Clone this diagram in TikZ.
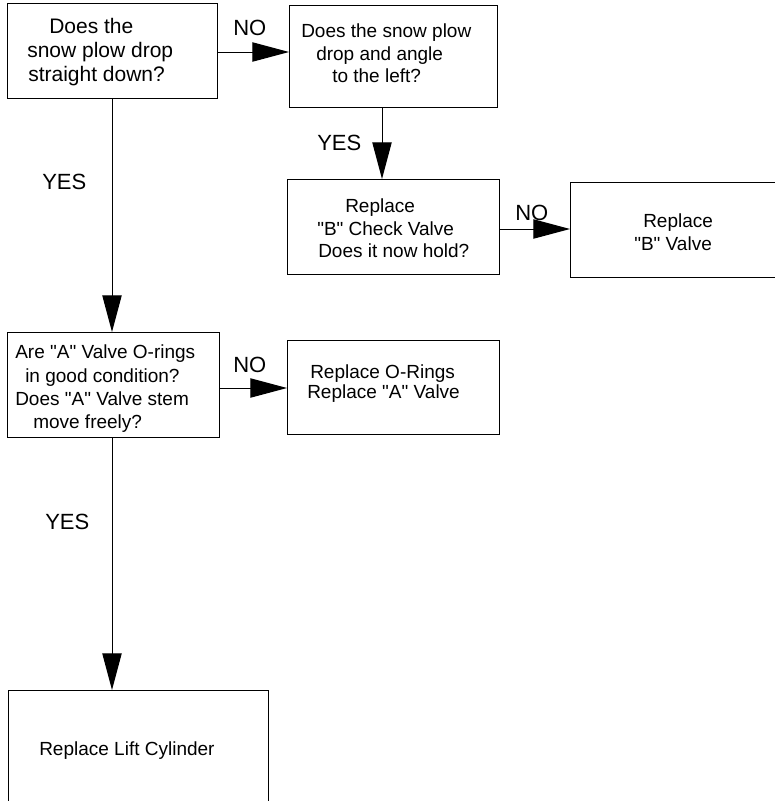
\documentclass[tikz,border=0pt]{standalone}
\usepackage{fontspec}
\setmainfont{Liberation Sans}[Ligatures=TeXOff]
\usetikzlibrary{arrows.meta}
\begin{document}
\begin{tikzpicture}[x=0.75pt,y=-0.75pt,
  box/.style={draw, line width=0.9pt, inner sep=0pt, anchor=north west},
  txt/.style={inner sep=0pt, anchor=base west, font=\fontsize{14.25}{17}\selectfont},
  bigtxt/.style={inner sep=0pt, anchor=base west, font=\fontsize{15.75}{18}\selectfont},
  lbl/.style={inner sep=0pt, anchor=base west, font=\fontsize{16.5}{19}\selectfont},
  arr/.style={line width=0.75pt, -{Triangle[length=27.5pt, width=14.5pt]}}]
\useasboundingbox (0,0) rectangle (775,801);
\clip (0,0) rectangle (775,801);
% boxes
\node[box, minimum width=157.5pt, minimum height=71.25pt] (b1) at (7,3) {};
\node[box, minimum width=156pt, minimum height=76.5pt] (b2) at (289,5) {};
\node[box, minimum width=159pt, minimum height=71.25pt] (b3) at (287,179) {};
\node[box, minimum width=165pt, minimum height=71.25pt] (b4) at (570,182) {};
\node[box, minimum width=159pt, minimum height=78.75pt] (b5) at (7,332) {};
\node[box, minimum width=159pt, minimum height=70.5pt] (b6) at (287,340) {};
\node[box, minimum width=195pt, minimum height=97.5pt] (b7) at (8,690) {};
% texts
\node[bigtxt] (t1a) at (49,33) {Does the};
\node[bigtxt] (t1b) at (27,57) {snow plow drop};
\node[bigtxt] (t1c) at (28,81) {straight down?};
\node[txt] (t2a) at (301,37) {Does the snow plow};
\node[txt] (t2b) at (316,60) {drop and angle};
\node[txt] (t2c) at (332,82) {to the left?};
\node[txt] (t3a) at (345,212) {Replace};
\node[txt] (t3b) at (317,235) {"B" Check Valve};
\node[txt] (t3c) at (318,257) {Does it now hold?};
\node[txt] (t4a) at (643,227) {Replace};
\node[txt] (t4b) at (634,250) {"B" Valve};
\node[txt] (t5a) at (15,358) {Are "A" Valve O-rings};
\node[txt] (t5b) at (25,382) {in good condition?};
\node[txt] (t5c) at (15,405) {Does "A" Valve stem};
\node[txt] (t5d) at (33,428) {move freely?};
\node[txt] (t6a) at (310,378) {Replace O-Rings};
\node[txt] (t6b) at (307,398) {Replace "A" Valve};
\node[txt] (t7a) at (39,755) {Replace Lift Cylinder};
% labels
\node[lbl] (l1) at (233,35) {NO};
\node[lbl] (l2) at (317,150) {YES};
\node[lbl] (l3) at (515,220) {NO};
\node[lbl] (l4) at (42,189) {YES};
\node[lbl] (l5) at (233,372) {NO};
\node[lbl] (l6) at (45,529) {YES};
% connector anchor points
\coordinate (c1) at (217,52);
\coordinate (c2) at (382,107);
\coordinate (c3) at (499,229);
\coordinate (c4) at (112,98);
\coordinate (c5) at (219,388);
\coordinate (c6) at (112,437);
% connectors
\draw[arr] (c1) -- (c1 -| b2.west);
\draw[arr] (c2) -- (c2 |- b3.north);
\draw[arr] (c3) -- (c3 -| b4.west);
\draw[arr] (c4) -- (c4 |- b5.north);
\draw[arr] (c5) -- (c5 -| b6.west);
\draw[arr] (c6) -- (c6 |- b7.north);
\end{tikzpicture}
\end{document}
